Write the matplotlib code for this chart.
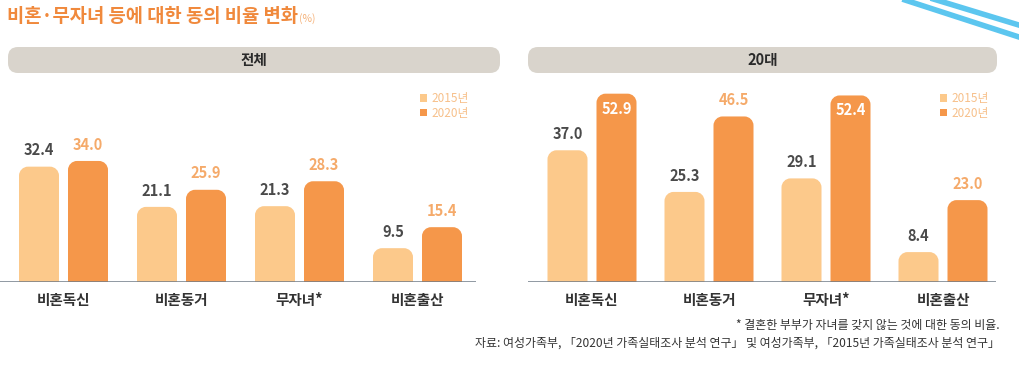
import matplotlib
matplotlib.use('Agg')
import matplotlib.pyplot as plt
from matplotlib.patches import FancyBboxPatch, PathPatch, Patch
from matplotlib.path import Path
from matplotlib.lines import Line2D

plt.rcParams['font.family'] = ['Noto Sans CJK KR', 'DejaVu Sans']

# 데이터
categories = ['비혼독신', '비혼동거', '무자녀*', '비혼출산']
years = ['2015년', '2020년']
total_2015 = [32.4, 21.1, 21.3, 9.5]
total_2020 = [34.0, 25.9, 28.3, 15.4]
age20_2015 = [37.0, 25.3, 29.1, 8.4]
age20_2020 = [52.9, 46.5, 52.4, 23.0]

C15 = '#fcc98b'
C20 = '#f5974a'
LBL20 = '#f5aa6a'
DARK = '#4a4a4a'

W, H = 1020, 373
fig = plt.figure(figsize=(W / 100, H / 100), dpi=100)


def fx(px):
    return px / W


def fy(py):
    return 1 - py / H


def rounded_bar(ax, x, w, h, color, rx, ry):
    # 위쪽 모서리만 둥근 막대
    k = 0.5523
    verts = [(x, 0), (x + w, 0), (x + w, h - ry),
             (x + w, h - ry + k * ry), (x + w - rx + k * rx, h), (x + w - rx, h),
             (x + rx, h),
             (x + rx - k * rx, h), (x, h - ry + k * ry), (x, h - ry),
             (x, 0)]
    codes = [Path.MOVETO, Path.LINETO, Path.LINETO,
             Path.CURVE4, Path.CURVE4, Path.CURVE4,
             Path.LINETO,
             Path.CURVE4, Path.CURVE4, Path.CURVE4,
             Path.CLOSEPOLY]
    ax.add_patch(PathPatch(Path(verts, codes), fc=color, ec='none'))


def panel(left_px, right_px, box_left_px, box_right_px, first_center_px, spacing_px, v15, v20, title):
    top_px, base_px = 85, 282
    ax = fig.add_axes([fx(left_px), fy(base_px), fx(right_px - left_px),
                       (base_px - top_px) / H])
    px_per_y = 3.56
    ax.set_ylim(0, (base_px - top_px) / px_per_y)
    x0 = -(first_center_px - left_px) / spacing_px
    ax.set_xlim(x0, x0 + (right_px - left_px) / spacing_px)
    bw = 40 / spacing_px
    off = 24.5 / spacing_px
    rx, ry = 9 / spacing_px, 9 / px_per_y
    for i, (a, b) in enumerate(zip(v15, v20)):
        rounded_bar(ax, i - off - bw / 2, bw, a, C15, rx, ry)
        rounded_bar(ax, i + off - bw / 2, bw, b, C20, rx, ry)
        ax.annotate('%.1f' % a, (i - off, a), xytext=(0, 6), textcoords='offset points',
                    ha='center', va='bottom', fontsize=10.5, fontweight='bold', color=DARK)
        if b > 50:
            ax.annotate('%.1f' % b, (i + off, b), xytext=(0, -5), textcoords='offset points',
                        ha='center', va='top', fontsize=10.5, fontweight='bold', color='white')
        else:
            ax.annotate('%.1f' % b, (i + off, b), xytext=(0, 6), textcoords='offset points',
                        ha='center', va='bottom', fontsize=10.5, fontweight='bold', color=LBL20)
    ax.axhline(0, color='#6f7a86', lw=1.8)
    for s in ax.spines.values():
        s.set_visible(False)
    ax.set_yticks([])
    ax.set_xticks(range(len(categories)), categories)
    ax.tick_params(axis='x', length=0, pad=7, labelsize=10.5, labelcolor='#333333')
    for t in ax.get_xticklabels():
        t.set_fontweight('bold')
    handles = [Patch(fc=C15, ec='none'), Patch(fc=C20, ec='none')]
    ax.legend(handles, years, loc='upper right', bbox_to_anchor=(1.0, 1.0),
              frameon=False, fontsize=8.5, labelcolor='#f7c08a', handlelength=0.6,
              handleheight=0.6, handletextpad=0.4, labelspacing=0.15, borderaxespad=0.2)

    # 헤더 상자
    hb = FancyBboxPatch((box_left_px / 100, (H - 73) / 100), (box_right_px - box_left_px) / 100,
                        0.26, boxstyle='round,pad=0,rounding_size=0.1',
                        transform=fig.dpi_scale_trans, fc='#d9d4cc', ec='none')
    fig.patches.append(hb)
    fig.text(fx((box_left_px + box_right_px) / 2), fy(59.5), title, ha='center', va='center',
             fontsize=10.5, fontweight='bold', color='#2a2a2a')
    return ax


panel(0, 476, 8, 500, 63.5, 118, total_2015, total_2020, '전체')
panel(528, 996, 528, 997, 592, 117, age20_2015, age20_2020, '20대')

# 제목
t = fig.text(fx(7), fy(17), '비혼·무자녀 등에 대한 동의 비율 변화', ha='left', va='center',
             fontsize=13.5, fontweight='bold', color='#f0893c')
fig.canvas.draw()
bb = t.get_window_extent()
fig.text(bb.x1 / W + 0.001, fy(19), '(%)', ha='left', va='center', fontsize=7.5, color='#f5b27a')

# 주석
fig.text(fx(1000), fy(325), '* 결혼한 부부가 자녀를 갖지 않는 것에 대한 동의 비율.', ha='right',
         va='center', fontsize=8.6, color='#333333')
fig.text(fx(1000), fy(343), '자료: 여성가족부, 「2020년 가족실태조사 분석 연구」 및 여성가족부, 「2015년 가족실태조사 분석 연구」',
         ha='right', va='center', fontsize=8.6, color='#333333')

# 오른쪽 위 장식 줄무늬
fig.add_artist(Line2D([fx(930), fx(1022)], [fy(-2), fy(26)], color='#5cc6ef', lw=4))
fig.add_artist(Line2D([fx(905), fx(1022)], [fy(0), fy(38)], color='#5cc6ef', lw=4))

fig.savefig('out.png', dpi=100)
